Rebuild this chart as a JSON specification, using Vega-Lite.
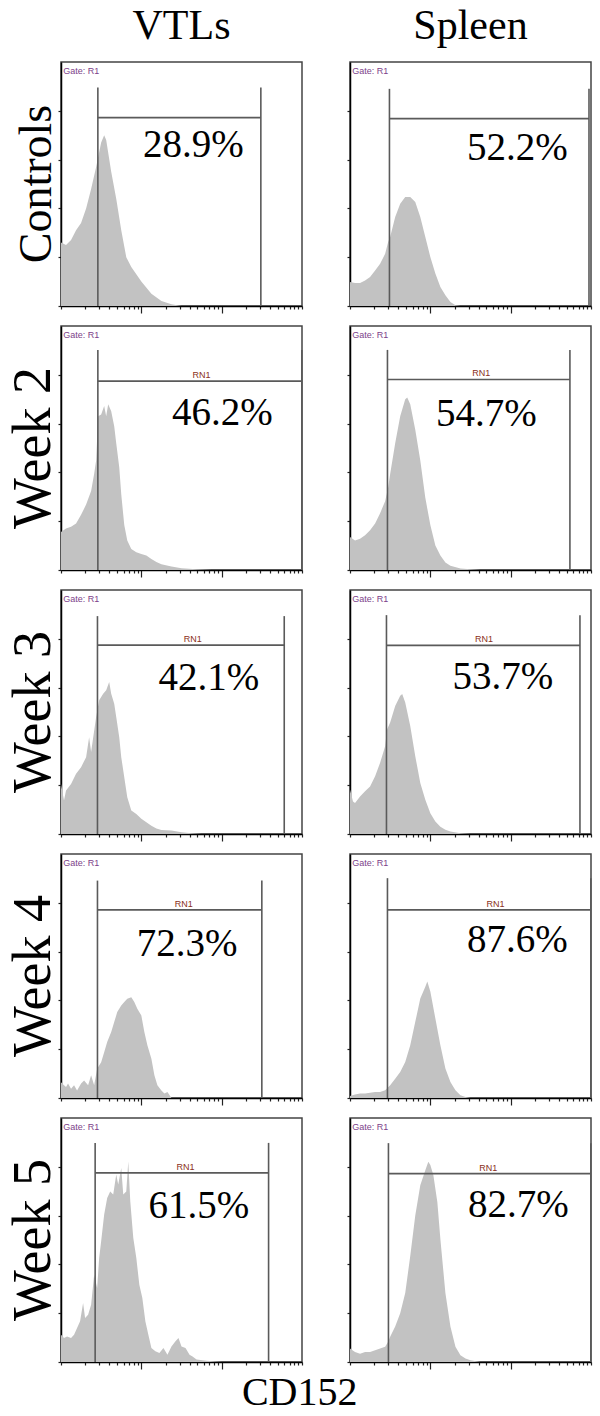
{
  "$schema": "https://vega.github.io/schema/vega-lite/v6.json",
  "padding": {"left": 6, "top": 5, "right": 2, "bottom": 2},
  "background": "white",
  "title": {"text": "CD152", "orient": "bottom", "fontSize": 40, "font": "Liberation Serif", "fontWeight": "normal", "color": "black", "anchor": "middle", "offset": 3},
  "data": {"values": [
    {"k":"h","r":"Controls","c":"VTLs","x":1,"y":26},{"k":"h","r":"Controls","c":"VTLs","x":1.155,"y":25},{"k":"h","r":"Controls","c":"VTLs","x":1.334,"y":27},{"k":"h","r":"Controls","c":"VTLs","x":1.54,"y":31},{"k":"h","r":"Controls","c":"VTLs","x":1.778,"y":34},{"k":"h","r":"Controls","c":"VTLs","x":2.054,"y":40},{"k":"h","r":"Controls","c":"VTLs","x":2.371,"y":48},{"k":"h","r":"Controls","c":"VTLs","x":2.738,"y":57},{"k":"h","r":"Controls","c":"VTLs","x":3.162,"y":67},{"k":"h","r":"Controls","c":"VTLs","x":3.447,"y":70},{"k":"h","r":"Controls","c":"VTLs","x":3.652,"y":68},{"k":"h","r":"Controls","c":"VTLs","x":4.217,"y":55},{"k":"h","r":"Controls","c":"VTLs","x":4.87,"y":44},{"k":"h","r":"Controls","c":"VTLs","x":5.623,"y":31},{"k":"h","r":"Controls","c":"VTLs","x":6.494,"y":20},{"k":"h","r":"Controls","c":"VTLs","x":7.499,"y":16},{"k":"h","r":"Controls","c":"VTLs","x":8.66,"y":13},{"k":"h","r":"Controls","c":"VTLs","x":10,"y":10},{"k":"h","r":"Controls","c":"VTLs","x":13.34,"y":5},{"k":"h","r":"Controls","c":"VTLs","x":17.78,"y":2},{"k":"h","r":"Controls","c":"VTLs","x":23.71,"y":0.7},{"k":"h","r":"Controls","c":"VTLs","x":31.62,"y":0},{"k":"h","r":"Controls","c":"VTLs","x":1000,"y":0},
    {"k":"h","r":"Controls","c":"Spleen","x":1,"y":9.8},{"k":"h","r":"Controls","c":"Spleen","x":1.155,"y":9.4},{"k":"h","r":"Controls","c":"Spleen","x":1.334,"y":9.4},{"k":"h","r":"Controls","c":"Spleen","x":1.54,"y":10.5},{"k":"h","r":"Controls","c":"Spleen","x":1.778,"y":11.9},{"k":"h","r":"Controls","c":"Spleen","x":2.054,"y":14.6},{"k":"h","r":"Controls","c":"Spleen","x":2.371,"y":17.3},{"k":"h","r":"Controls","c":"Spleen","x":2.738,"y":21.4},{"k":"h","r":"Controls","c":"Spleen","x":2.985,"y":26.2},{"k":"h","r":"Controls","c":"Spleen","x":3.162,"y":28.3},{"k":"h","r":"Controls","c":"Spleen","x":3.652,"y":36.5},{"k":"h","r":"Controls","c":"Spleen","x":4.217,"y":41.9},{"k":"h","r":"Controls","c":"Spleen","x":4.87,"y":44.7},{"k":"h","r":"Controls","c":"Spleen","x":5.623,"y":44.7},{"k":"h","r":"Controls","c":"Spleen","x":6.494,"y":42.6},{"k":"h","r":"Controls","c":"Spleen","x":7.499,"y":36.5},{"k":"h","r":"Controls","c":"Spleen","x":8.66,"y":28.3},{"k":"h","r":"Controls","c":"Spleen","x":10,"y":20.1},{"k":"h","r":"Controls","c":"Spleen","x":11.55,"y":13.3},{"k":"h","r":"Controls","c":"Spleen","x":13.34,"y":7.8},{"k":"h","r":"Controls","c":"Spleen","x":15.4,"y":4.4},{"k":"h","r":"Controls","c":"Spleen","x":17.78,"y":1.6},{"k":"h","r":"Controls","c":"Spleen","x":20.54,"y":0.3},{"k":"h","r":"Controls","c":"Spleen","x":23.71,"y":0},{"k":"h","r":"Controls","c":"Spleen","x":1000,"y":0},
    {"k":"h","r":"Week 2","c":"VTLs","x":1,"y":15.6},{"k":"h","r":"Week 2","c":"VTLs","x":1.155,"y":17},{"k":"h","r":"Week 2","c":"VTLs","x":1.334,"y":17.7},{"k":"h","r":"Week 2","c":"VTLs","x":1.54,"y":19.1},{"k":"h","r":"Week 2","c":"VTLs","x":1.778,"y":22.6},{"k":"h","r":"Week 2","c":"VTLs","x":2.054,"y":26.8},{"k":"h","r":"Week 2","c":"VTLs","x":2.371,"y":32.4},{"k":"h","r":"Week 2","c":"VTLs","x":2.585,"y":39.3},{"k":"h","r":"Week 2","c":"VTLs","x":2.738,"y":44.9},{"k":"h","r":"Week 2","c":"VTLs","x":2.901,"y":63},{"k":"h","r":"Week 2","c":"VTLs","x":3.162,"y":63.7},{"k":"h","r":"Week 2","c":"VTLs","x":3.447,"y":67.2},{"k":"h","r":"Week 2","c":"VTLs","x":3.652,"y":63},{"k":"h","r":"Week 2","c":"VTLs","x":3.868,"y":67.9},{"k":"h","r":"Week 2","c":"VTLs","x":4.217,"y":65.1},{"k":"h","r":"Week 2","c":"VTLs","x":4.597,"y":58.9},{"k":"h","r":"Week 2","c":"VTLs","x":4.87,"y":51.9},{"k":"h","r":"Week 2","c":"VTLs","x":5.309,"y":42.1},{"k":"h","r":"Week 2","c":"VTLs","x":5.623,"y":31},{"k":"h","r":"Week 2","c":"VTLs","x":6.131,"y":18.4},{"k":"h","r":"Week 2","c":"VTLs","x":6.683,"y":12.1},{"k":"h","r":"Week 2","c":"VTLs","x":7.499,"y":8.6},{"k":"h","r":"Week 2","c":"VTLs","x":8.66,"y":7.3},{"k":"h","r":"Week 2","c":"VTLs","x":10,"y":6.6},{"k":"h","r":"Week 2","c":"VTLs","x":11.55,"y":5.9},{"k":"h","r":"Week 2","c":"VTLs","x":13.34,"y":4.5},{"k":"h","r":"Week 2","c":"VTLs","x":15.4,"y":3.3},{"k":"h","r":"Week 2","c":"VTLs","x":17.78,"y":2.4},{"k":"h","r":"Week 2","c":"VTLs","x":23.71,"y":1.4},{"k":"h","r":"Week 2","c":"VTLs","x":31.62,"y":0.7},{"k":"h","r":"Week 2","c":"VTLs","x":48.7,"y":0.3},{"k":"h","r":"Week 2","c":"VTLs","x":74.99,"y":0},{"k":"h","r":"Week 2","c":"VTLs","x":1000,"y":0},
    {"k":"h","r":"Week 2","c":"Spleen","x":1,"y":13.5},{"k":"h","r":"Week 2","c":"Spleen","x":1.155,"y":12.1},{"k":"h","r":"Week 2","c":"Spleen","x":1.334,"y":12.8},{"k":"h","r":"Week 2","c":"Spleen","x":1.54,"y":14.2},{"k":"h","r":"Week 2","c":"Spleen","x":1.778,"y":16.3},{"k":"h","r":"Week 2","c":"Spleen","x":2.054,"y":19.1},{"k":"h","r":"Week 2","c":"Spleen","x":2.371,"y":23.3},{"k":"h","r":"Week 2","c":"Spleen","x":2.738,"y":28.2},{"k":"h","r":"Week 2","c":"Spleen","x":2.985,"y":33.8},{"k":"h","r":"Week 2","c":"Spleen","x":3.162,"y":39.3},{"k":"h","r":"Week 2","c":"Spleen","x":3.652,"y":51.9},{"k":"h","r":"Week 2","c":"Spleen","x":4.217,"y":63},{"k":"h","r":"Week 2","c":"Spleen","x":4.87,"y":70},{"k":"h","r":"Week 2","c":"Spleen","x":5.158,"y":70.7},{"k":"h","r":"Week 2","c":"Spleen","x":5.623,"y":67.9},{"k":"h","r":"Week 2","c":"Spleen","x":6.494,"y":57.5},{"k":"h","r":"Week 2","c":"Spleen","x":7.499,"y":44.9},{"k":"h","r":"Week 2","c":"Spleen","x":8.66,"y":29.6},{"k":"h","r":"Week 2","c":"Spleen","x":10,"y":18.4},{"k":"h","r":"Week 2","c":"Spleen","x":11.55,"y":10},{"k":"h","r":"Week 2","c":"Spleen","x":13.34,"y":5.9},{"k":"h","r":"Week 2","c":"Spleen","x":15.4,"y":3.1},{"k":"h","r":"Week 2","c":"Spleen","x":17.78,"y":1.7},{"k":"h","r":"Week 2","c":"Spleen","x":23.71,"y":0.6},{"k":"h","r":"Week 2","c":"Spleen","x":31.62,"y":0.3},{"k":"h","r":"Week 2","c":"Spleen","x":42.17,"y":0},{"k":"h","r":"Week 2","c":"Spleen","x":1000,"y":0},
    {"k":"h","r":"Week 3","c":"VTLs","x":1,"y":20.5},{"k":"h","r":"Week 3","c":"VTLs","x":1.09,"y":13.7},{"k":"h","r":"Week 3","c":"VTLs","x":1.155,"y":17.8},{"k":"h","r":"Week 3","c":"VTLs","x":1.334,"y":20.5},{"k":"h","r":"Week 3","c":"VTLs","x":1.54,"y":24.7},{"k":"h","r":"Week 3","c":"VTLs","x":1.778,"y":27.4},{"k":"h","r":"Week 3","c":"VTLs","x":2.054,"y":31.5},{"k":"h","r":"Week 3","c":"VTLs","x":2.239,"y":39.7},{"k":"h","r":"Week 3","c":"VTLs","x":2.371,"y":33.6},{"k":"h","r":"Week 3","c":"VTLs","x":2.738,"y":47.9},{"k":"h","r":"Week 3","c":"VTLs","x":2.985,"y":54.8},{"k":"h","r":"Week 3","c":"VTLs","x":3.35,"y":57.5},{"k":"h","r":"Week 3","c":"VTLs","x":3.652,"y":58.9},{"k":"h","r":"Week 3","c":"VTLs","x":3.981,"y":62.3},{"k":"h","r":"Week 3","c":"VTLs","x":4.217,"y":57.5},{"k":"h","r":"Week 3","c":"VTLs","x":4.597,"y":53.4},{"k":"h","r":"Week 3","c":"VTLs","x":4.87,"y":47.9},{"k":"h","r":"Week 3","c":"VTLs","x":5.309,"y":39.7},{"k":"h","r":"Week 3","c":"VTLs","x":5.623,"y":31.5},{"k":"h","r":"Week 3","c":"VTLs","x":6.131,"y":23.3},{"k":"h","r":"Week 3","c":"VTLs","x":6.683,"y":15.1},{"k":"h","r":"Week 3","c":"VTLs","x":7.499,"y":9.6},{"k":"h","r":"Week 3","c":"VTLs","x":8.66,"y":8.2},{"k":"h","r":"Week 3","c":"VTLs","x":10,"y":6.2},{"k":"h","r":"Week 3","c":"VTLs","x":11.55,"y":4.8},{"k":"h","r":"Week 3","c":"VTLs","x":13.34,"y":3.4},{"k":"h","r":"Week 3","c":"VTLs","x":15.4,"y":2.3},{"k":"h","r":"Week 3","c":"VTLs","x":17.78,"y":1.6},{"k":"h","r":"Week 3","c":"VTLs","x":23.71,"y":1.4},{"k":"h","r":"Week 3","c":"VTLs","x":31.62,"y":0.7},{"k":"h","r":"Week 3","c":"VTLs","x":42.17,"y":0.3},{"k":"h","r":"Week 3","c":"VTLs","x":56.23,"y":0},{"k":"h","r":"Week 3","c":"VTLs","x":1000,"y":0},
    {"k":"h","r":"Week 3","c":"Spleen","x":1,"y":18.2},{"k":"h","r":"Week 3","c":"Spleen","x":1.09,"y":13.3},{"k":"h","r":"Week 3","c":"Spleen","x":1.155,"y":12.7},{"k":"h","r":"Week 3","c":"Spleen","x":1.334,"y":15.4},{"k":"h","r":"Week 3","c":"Spleen","x":1.54,"y":17.5},{"k":"h","r":"Week 3","c":"Spleen","x":1.778,"y":19.5},{"k":"h","r":"Week 3","c":"Spleen","x":2.054,"y":23.7},{"k":"h","r":"Week 3","c":"Spleen","x":2.371,"y":29.2},{"k":"h","r":"Week 3","c":"Spleen","x":2.738,"y":36},{"k":"h","r":"Week 3","c":"Spleen","x":2.901,"y":42.9},{"k":"h","r":"Week 3","c":"Spleen","x":3.162,"y":45.7},{"k":"h","r":"Week 3","c":"Spleen","x":3.652,"y":52.5},{"k":"h","r":"Week 3","c":"Spleen","x":4.217,"y":56.7},{"k":"h","r":"Week 3","c":"Spleen","x":4.467,"y":57.4},{"k":"h","r":"Week 3","c":"Spleen","x":4.87,"y":53.9},{"k":"h","r":"Week 3","c":"Spleen","x":5.623,"y":44.3},{"k":"h","r":"Week 3","c":"Spleen","x":6.494,"y":31.9},{"k":"h","r":"Week 3","c":"Spleen","x":7.499,"y":20.9},{"k":"h","r":"Week 3","c":"Spleen","x":8.66,"y":14},{"k":"h","r":"Week 3","c":"Spleen","x":10,"y":8.5},{"k":"h","r":"Week 3","c":"Spleen","x":11.55,"y":5.1},{"k":"h","r":"Week 3","c":"Spleen","x":13.34,"y":3},{"k":"h","r":"Week 3","c":"Spleen","x":15.4,"y":1.7},{"k":"h","r":"Week 3","c":"Spleen","x":17.78,"y":1},{"k":"h","r":"Week 3","c":"Spleen","x":23.71,"y":0.3},{"k":"h","r":"Week 3","c":"Spleen","x":31.62,"y":0},{"k":"h","r":"Week 3","c":"Spleen","x":1000,"y":0},
    {"k":"h","r":"Week 4","c":"VTLs","x":1,"y":6.5},{"k":"h","r":"Week 4","c":"VTLs","x":1.09,"y":5.2},{"k":"h","r":"Week 4","c":"VTLs","x":1.155,"y":4.5},{"k":"h","r":"Week 4","c":"VTLs","x":1.223,"y":5.9},{"k":"h","r":"Week 4","c":"VTLs","x":1.334,"y":3.8},{"k":"h","r":"Week 4","c":"VTLs","x":1.454,"y":5.2},{"k":"h","r":"Week 4","c":"VTLs","x":1.585,"y":3.1},{"k":"h","r":"Week 4","c":"VTLs","x":1.778,"y":5.9},{"k":"h","r":"Week 4","c":"VTLs","x":1.939,"y":7.2},{"k":"h","r":"Week 4","c":"VTLs","x":2.175,"y":5.2},{"k":"h","r":"Week 4","c":"VTLs","x":2.371,"y":9.3},{"k":"h","r":"Week 4","c":"VTLs","x":2.585,"y":5.2},{"k":"h","r":"Week 4","c":"VTLs","x":2.818,"y":12},{"k":"h","r":"Week 4","c":"VTLs","x":3.162,"y":14.7},{"k":"h","r":"Week 4","c":"VTLs","x":3.447,"y":18.8},{"k":"h","r":"Week 4","c":"VTLs","x":3.758,"y":22.9},{"k":"h","r":"Week 4","c":"VTLs","x":4.217,"y":27},{"k":"h","r":"Week 4","c":"VTLs","x":4.597,"y":31.1},{"k":"h","r":"Week 4","c":"VTLs","x":5.012,"y":35.2},{"k":"h","r":"Week 4","c":"VTLs","x":5.623,"y":37.9},{"k":"h","r":"Week 4","c":"VTLs","x":6.131,"y":39.3},{"k":"h","r":"Week 4","c":"VTLs","x":6.683,"y":40.7},{"k":"h","r":"Week 4","c":"VTLs","x":7.499,"y":41.3},{"k":"h","r":"Week 4","c":"VTLs","x":8.175,"y":39.3},{"k":"h","r":"Week 4","c":"VTLs","x":8.913,"y":36.6},{"k":"h","r":"Week 4","c":"VTLs","x":10,"y":33.8},{"k":"h","r":"Week 4","c":"VTLs","x":10.9,"y":27},{"k":"h","r":"Week 4","c":"VTLs","x":11.89,"y":21.6},{"k":"h","r":"Week 4","c":"VTLs","x":13.34,"y":16.1},{"k":"h","r":"Week 4","c":"VTLs","x":14.54,"y":9.3},{"k":"h","r":"Week 4","c":"VTLs","x":15.85,"y":5.2},{"k":"h","r":"Week 4","c":"VTLs","x":17.78,"y":3.1},{"k":"h","r":"Week 4","c":"VTLs","x":19.39,"y":1.8},{"k":"h","r":"Week 4","c":"VTLs","x":21.13,"y":2.5},{"k":"h","r":"Week 4","c":"VTLs","x":23.71,"y":0},{"k":"h","r":"Week 4","c":"VTLs","x":1000,"y":0},
    {"k":"h","r":"Week 4","c":"Spleen","x":1,"y":0.8},{"k":"h","r":"Week 4","c":"Spleen","x":1.155,"y":1.4},{"k":"h","r":"Week 4","c":"Spleen","x":1.334,"y":1.8},{"k":"h","r":"Week 4","c":"Spleen","x":1.54,"y":1.8},{"k":"h","r":"Week 4","c":"Spleen","x":1.778,"y":2.2},{"k":"h","r":"Week 4","c":"Spleen","x":2.054,"y":2.5},{"k":"h","r":"Week 4","c":"Spleen","x":2.371,"y":2.5},{"k":"h","r":"Week 4","c":"Spleen","x":2.738,"y":3.2},{"k":"h","r":"Week 4","c":"Spleen","x":3.162,"y":5.2},{"k":"h","r":"Week 4","c":"Spleen","x":3.652,"y":7.9},{"k":"h","r":"Week 4","c":"Spleen","x":4.217,"y":10.7},{"k":"h","r":"Week 4","c":"Spleen","x":4.87,"y":14.8},{"k":"h","r":"Week 4","c":"Spleen","x":5.623,"y":21.6},{"k":"h","r":"Week 4","c":"Spleen","x":6.494,"y":31.2},{"k":"h","r":"Week 4","c":"Spleen","x":7.499,"y":40.8},{"k":"h","r":"Week 4","c":"Spleen","x":8.66,"y":45.6},{"k":"h","r":"Week 4","c":"Spleen","x":9.173,"y":47.7},{"k":"h","r":"Week 4","c":"Spleen","x":10,"y":43.6},{"k":"h","r":"Week 4","c":"Spleen","x":11.55,"y":32.6},{"k":"h","r":"Week 4","c":"Spleen","x":13.34,"y":21.6},{"k":"h","r":"Week 4","c":"Spleen","x":15.4,"y":12.1},{"k":"h","r":"Week 4","c":"Spleen","x":17.78,"y":6.6},{"k":"h","r":"Week 4","c":"Spleen","x":20.54,"y":3.2},{"k":"h","r":"Week 4","c":"Spleen","x":23.71,"y":1.1},{"k":"h","r":"Week 4","c":"Spleen","x":27.38,"y":0.4},{"k":"h","r":"Week 4","c":"Spleen","x":31.62,"y":0},{"k":"h","r":"Week 4","c":"Spleen","x":1000,"y":0},
    {"k":"h","r":"Week 5","c":"VTLs","x":1,"y":11.2},{"k":"h","r":"Week 5","c":"VTLs","x":1.09,"y":9.8},{"k":"h","r":"Week 5","c":"VTLs","x":1.189,"y":10.5},{"k":"h","r":"Week 5","c":"VTLs","x":1.334,"y":9.8},{"k":"h","r":"Week 5","c":"VTLs","x":1.454,"y":11.2},{"k":"h","r":"Week 5","c":"VTLs","x":1.585,"y":13.9},{"k":"h","r":"Week 5","c":"VTLs","x":1.728,"y":16.7},{"k":"h","r":"Week 5","c":"VTLs","x":1.884,"y":24.2},{"k":"h","r":"Week 5","c":"VTLs","x":1.995,"y":18},{"k":"h","r":"Week 5","c":"VTLs","x":2.175,"y":19.4},{"k":"h","r":"Week 5","c":"VTLs","x":2.371,"y":23.5},{"k":"h","r":"Week 5","c":"VTLs","x":2.585,"y":35.8},{"k":"h","r":"Week 5","c":"VTLs","x":2.818,"y":30.3},{"k":"h","r":"Week 5","c":"VTLs","x":2.985,"y":42.6},{"k":"h","r":"Week 5","c":"VTLs","x":3.162,"y":49.5},{"k":"h","r":"Week 5","c":"VTLs","x":3.447,"y":60.4},{"k":"h","r":"Week 5","c":"VTLs","x":3.758,"y":67.2},{"k":"h","r":"Week 5","c":"VTLs","x":4.097,"y":69.9},{"k":"h","r":"Week 5","c":"VTLs","x":4.467,"y":68.6},{"k":"h","r":"Week 5","c":"VTLs","x":4.87,"y":76.8},{"k":"h","r":"Week 5","c":"VTLs","x":5.158,"y":72.7},{"k":"h","r":"Week 5","c":"VTLs","x":5.623,"y":79.5},{"k":"h","r":"Week 5","c":"VTLs","x":5.957,"y":68.6},{"k":"h","r":"Week 5","c":"VTLs","x":6.494,"y":69.9},{"k":"h","r":"Week 5","c":"VTLs","x":6.879,"y":82.2},{"k":"h","r":"Week 5","c":"VTLs","x":7.286,"y":65.8},{"k":"h","r":"Week 5","c":"VTLs","x":7.943,"y":50.8},{"k":"h","r":"Week 5","c":"VTLs","x":8.66,"y":42.6},{"k":"h","r":"Week 5","c":"VTLs","x":9.441,"y":31.7},{"k":"h","r":"Week 5","c":"VTLs","x":10.29,"y":26.2},{"k":"h","r":"Week 5","c":"VTLs","x":11.22,"y":16.7},{"k":"h","r":"Week 5","c":"VTLs","x":12.23,"y":11.2},{"k":"h","r":"Week 5","c":"VTLs","x":13.34,"y":5.7},{"k":"h","r":"Week 5","c":"VTLs","x":14.96,"y":4.4},{"k":"h","r":"Week 5","c":"VTLs","x":16.79,"y":3.7},{"k":"h","r":"Week 5","c":"VTLs","x":18.84,"y":5.7},{"k":"h","r":"Week 5","c":"VTLs","x":21.13,"y":3},{"k":"h","r":"Week 5","c":"VTLs","x":23.71,"y":6.4},{"k":"h","r":"Week 5","c":"VTLs","x":26.61,"y":8.5},{"k":"h","r":"Week 5","c":"VTLs","x":29.01,"y":9.8},{"k":"h","r":"Week 5","c":"VTLs","x":31.62,"y":6.4},{"k":"h","r":"Week 5","c":"VTLs","x":35.48,"y":5.7},{"k":"h","r":"Week 5","c":"VTLs","x":39.81,"y":3},{"k":"h","r":"Week 5","c":"VTLs","x":43.41,"y":2.3},{"k":"h","r":"Week 5","c":"VTLs","x":48.7,"y":1},{"k":"h","r":"Week 5","c":"VTLs","x":64.94,"y":0.5},{"k":"h","r":"Week 5","c":"VTLs","x":100,"y":0},{"k":"h","r":"Week 5","c":"VTLs","x":1000,"y":0},
    {"k":"h","r":"Week 5","c":"Spleen","x":1,"y":5.5},{"k":"h","r":"Week 5","c":"Spleen","x":1.155,"y":4.1},{"k":"h","r":"Week 5","c":"Spleen","x":1.334,"y":3.4},{"k":"h","r":"Week 5","c":"Spleen","x":1.54,"y":4.1},{"k":"h","r":"Week 5","c":"Spleen","x":1.778,"y":4.1},{"k":"h","r":"Week 5","c":"Spleen","x":2.054,"y":4.8},{"k":"h","r":"Week 5","c":"Spleen","x":2.371,"y":5.5},{"k":"h","r":"Week 5","c":"Spleen","x":2.738,"y":6.2},{"k":"h","r":"Week 5","c":"Spleen","x":2.985,"y":8.3},{"k":"h","r":"Week 5","c":"Spleen","x":3.162,"y":10.3},{"k":"h","r":"Week 5","c":"Spleen","x":3.652,"y":14.5},{"k":"h","r":"Week 5","c":"Spleen","x":4.217,"y":20},{"k":"h","r":"Week 5","c":"Spleen","x":4.87,"y":28.3},{"k":"h","r":"Week 5","c":"Spleen","x":5.623,"y":43.4},{"k":"h","r":"Week 5","c":"Spleen","x":6.494,"y":60},{"k":"h","r":"Week 5","c":"Spleen","x":7.499,"y":72.4},{"k":"h","r":"Week 5","c":"Spleen","x":8.66,"y":78.6},{"k":"h","r":"Week 5","c":"Spleen","x":9.441,"y":82.1},{"k":"h","r":"Week 5","c":"Spleen","x":10,"y":80.7},{"k":"h","r":"Week 5","c":"Spleen","x":10.9,"y":76.6},{"k":"h","r":"Week 5","c":"Spleen","x":12.23,"y":65.5},{"k":"h","r":"Week 5","c":"Spleen","x":13.34,"y":50.3},{"k":"h","r":"Week 5","c":"Spleen","x":15.4,"y":28.3},{"k":"h","r":"Week 5","c":"Spleen","x":17.78,"y":14.5},{"k":"h","r":"Week 5","c":"Spleen","x":20.54,"y":6.2},{"k":"h","r":"Week 5","c":"Spleen","x":23.71,"y":2.8},{"k":"h","r":"Week 5","c":"Spleen","x":27.38,"y":1.4},{"k":"h","r":"Week 5","c":"Spleen","x":31.62,"y":0.7},{"k":"h","r":"Week 5","c":"Spleen","x":42.17,"y":0},{"k":"h","r":"Week 5","c":"Spleen","x":1000,"y":0},
    {"k":"g","r":"Controls","c":"VTLs","g0":0,"gl":2.876,"gr":307.4,"gy":77.2,"gt":89.5,"tx":44.3,"ty":61,"pct":"28.9%"},
    {"k":"g","r":"Controls","c":"Spleen","g0":0,"gl":3.098,"gr":944,"gy":76.8,"gt":89,"tx":121,"ty":59.7,"pct":"52.2%"},
    {"k":"g","r":"Week 2","c":"VTLs","g0":0,"gl":2.876,"gr":995,"gy":77.4,"gt":90.2,"tx":102,"ty":59.6,"pct":"46.2%","rn":56.2},
    {"k":"g","r":"Week 2","c":"Spleen","g0":0,"gl":2.926,"gr":546.5,"gy":78.1,"gt":90.2,"tx":49.7,"ty":58.9,"pct":"54.7%","rn":43},
    {"k":"g","r":"Week 3","c":"VTLs","g0":0,"gl":2.844,"gr":601,"gy":77.4,"gt":89.3,"tx":69.5,"ty":58.9,"pct":"42.1%","rn":43.6},
    {"k":"g","r":"Week 3","c":"Spleen","g0":0,"gl":2.844,"gr":728.6,"gy":77.3,"gt":89.7,"tx":80.2,"ty":59.4,"pct":"53.7%","rn":46.4},
    {"k":"g","r":"Week 4","c":"VTLs","g0":0,"gl":2.844,"gr":316.2,"gy":77.1,"gt":89.1,"tx":37.2,"ty":58.4,"pct":"72.3%","rn":33.8},
    {"k":"g","r":"Week 4","c":"Spleen","g0":0,"gl":2.926,"gr":995,"gy":77.1,"gt":90.1,"tx":121,"ty":60,"pct":"87.6%","rn":64.9},
    {"k":"g","r":"Week 5","c":"VTLs","g0":0,"gl":2.661,"gr":383.7,"gy":77.5,"gt":89.8,"tx":52.1,"ty":59,"pct":"61.5%","rn":35.5},
    {"k":"g","r":"Week 5","c":"Spleen","g0":0,"gl":3.01,"gr":995,"gy":77.2,"gt":89.7,"tx":125,"ty":59.3,"pct":"82.7%","rn":52.6}
  ]},
  "facet": {
    "row": {"field": "r", "type": "nominal", "title": null, "sort": ["Controls", "Week 2", "Week 3", "Week 4", "Week 5"], "header": {"labelFontSize": {"expr": "parent['r'] === 'Controls' ? 46 : 54"}, "labelFont": "Liberation Serif", "labelColor": "black", "labelPadding": -5, "labelAngle": -90, "labelBaseline": "top"}},
    "column": {"field": "c", "type": "nominal", "title": null, "sort": ["VTLs", "Spleen"], "header": {"labelFontSize": 42, "labelFont": "Liberation Serif", "labelColor": "black", "labelPadding": 13}}
  },
  "spacing": {"row": 10, "column": 41},
  "resolve": {"axis": {"x": "independent", "y": "independent"}},
  "spec": {
    "width": 241,
    "height": 244,
    "layer": [
      {
        "transform": [{"filter": "datum.k == 'h'"}],
        "mark": {"type": "area", "color": "#c2c2c2", "interpolate": "linear"},
        "encoding": {
          "x": {"field": "x", "type": "quantitative", "title": null, "scale": {"type": "log", "domain": [1, 1000], "nice": false},
            "axis": {"title": null, "labels": false, "grid": false, "values": [1,2,3,4,5,6,7,8,9,10,20,30,40,50,60,70,80,90,100,200,300,400,500,600,700,800,900,1000], "tickSize": {"condition": {"test": "datum.value == 10 || datum.value == 100", "value": 7}, "value": 3}, "domainColor": "#000", "domainWidth": 1.5, "tickColor": "#222", "tickWidth": 1.2}},
          "y": {"field": "y", "type": "quantitative", "title": null, "scale": {"domain": [0, 100], "nice": false},
            "axis": {"title": null, "labels": false, "grid": false, "values": [0,10,20,30,40,50,60,70,80,90], "tickSize": 3, "domainColor": "#000", "domainWidth": 1.5, "tickColor": "#222", "tickWidth": 1.2}}
        }
      },
      {
        "transform": [{"filter": "datum.k == 'g'"}],
        "mark": {"type": "rule", "color": "#5a5a5a", "strokeWidth": 1.6},
        "encoding": {"x": {"field": "gl", "type": "quantitative", "title": null}, "y": {"field": "g0", "type": "quantitative", "title": null}, "y2": {"field": "gt"}}
      },
      {
        "transform": [{"filter": "datum.k == 'g'"}],
        "mark": {"type": "rule", "color": "#5a5a5a", "strokeWidth": 1.6},
        "encoding": {"x": {"field": "gr", "type": "quantitative", "title": null}, "y": {"field": "g0", "type": "quantitative", "title": null}, "y2": {"field": "gt"}}
      },
      {
        "transform": [{"filter": "datum.k == 'g'"}],
        "mark": {"type": "rule", "color": "#5a5a5a", "strokeWidth": 1.6},
        "encoding": {"x": {"field": "gl", "type": "quantitative", "title": null}, "x2": {"field": "gr"}, "y": {"field": "gy", "type": "quantitative", "title": null}}
      },
      {
        "transform": [{"filter": "datum.k == 'g'"}],
        "mark": {"type": "text", "font": "Liberation Serif", "fontSize": 39, "color": "black", "align": "center", "baseline": "alphabetic"},
        "encoding": {"x": {"field": "tx", "type": "quantitative", "title": null}, "y": {"field": "ty", "type": "quantitative", "title": null}, "text": {"field": "pct"}}
      },
      {
        "transform": [{"filter": "datum.k == 'g'"}],
        "mark": {"type": "text", "text": "Gate: R1", "font": "Liberation Sans", "fontSize": 9, "color": "#7d3f8a", "align": "left", "baseline": "middle"},
        "encoding": {"x": {"datum": 1.07, "type": "quantitative"}, "y": {"datum": 96.5, "type": "quantitative"}}
      },
      {
        "transform": [{"filter": "datum.k == 'g' && isValid(datum.rn)"}],
        "mark": {"type": "text", "text": "RN1", "font": "Liberation Sans", "fontSize": 9, "color": "#8a3020", "align": "center", "baseline": "bottom", "dy": -1},
        "encoding": {"x": {"field": "rn", "type": "quantitative", "title": null}, "y": {"field": "gy", "type": "quantitative", "title": null}}
      }
    ]
  },
  "config": {
    "view": {"stroke": "#444", "strokeWidth": 1.5},
    "font": "Liberation Serif",
    "text": {"font": "Liberation Serif"}
  }
}
